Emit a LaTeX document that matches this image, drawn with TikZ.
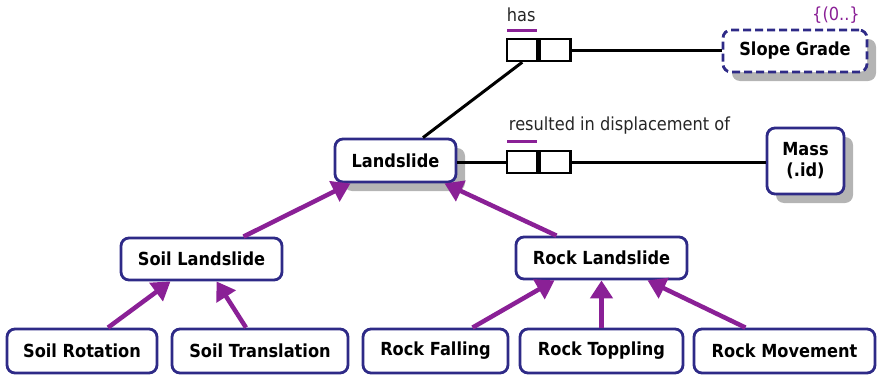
\documentclass[tikz,border=0pt]{standalone}
\usepackage{fontspec}
\setmainfont{DejaVu Sans}[FakeStretch=0.9]
\usetikzlibrary{shadows,arrows.meta,calc}
\definecolor{framecol}{HTML}{2E2A87}
\definecolor{relpurple}{HTML}{8A2096}
\definecolor{shadecol}{HTML}{B4B4B4}

\begin{document}
\begin{tikzpicture}[x=1pt,y=-1pt,
  entity/.style={draw=framecol, line width=2.8pt, rounded corners=8pt, fill=white,
    font=\fontsize{18}{21}\selectfont\bfseries, inner sep=0pt, align=center},
  shadowed/.style={drop shadow={shadow xshift=9pt, shadow yshift=-9pt, opacity=1, fill=shadecol}},
  optional/.style={dash pattern=on 8pt off 4pt},
  relhalf/.style={draw=black, line width=2.5pt, minimum width=30.5pt, minimum height=22pt, inner sep=0pt, fill=white},
  link/.style={draw=black, line width=3pt},
  isa/.style={draw=relpurple, line width=4.5pt, -{Triangle[length=18pt,width=22pt]}},
  bar/.style={draw=relpurple, line width=2.6pt},
  lbl/.style={font=\fontsize{18}{21}\selectfont, inner sep=0pt, text=black!85}
]
\useasboundingbox (0,0) rectangle (879,375);

% entities
\node[entity, shadowed, optional, minimum width=144pt, minimum height=42pt] (slope) at (795,51) {Slope Grade};
\node[entity, shadowed, minimum width=121pt, minimum height=43pt] (land) at (395.5,160.5) {Landslide};
\node[entity, shadowed, minimum width=77pt, minimum height=66pt] (mass) at (805.5,161) {Mass\\(.id)};
\node[entity, minimum width=161pt, minimum height=42pt] (soil) at (201.5,259) {Soil Landslide};
\node[entity, minimum width=171pt, minimum height=42pt] (rock) at (601.5,258) {Rock Landslide};
\node[entity, minimum width=150pt, minimum height=44pt] (srot) at (82,351) {Soil Rotation};
\node[entity, minimum width=176pt, minimum height=44pt] (stran) at (260,351) {Soil Translation};
\node[entity, minimum width=145pt, minimum height=44pt] (rfall) at (435.5,351) {Rock Falling};
\node[entity, minimum width=163pt, minimum height=44pt] (rtop) at (601.5,351) {Rock Toppling};
\node[entity, minimum width=181pt, minimum height=44pt] (rmov) at (784.5,351) {Rock Movement};

% relationship boxes
\node[relhalf] (hasL) at (522.25,50) {};
\node[relhalf, anchor=west] (hasR) at (hasL.east) {};
\node[relhalf] (resL) at (522.25,162) {};
\node[relhalf, anchor=west] (resR) at (resL.east) {};

% relationship labels and their marks
\node[lbl, anchor=base west] (hastxt) at ([xshift=1pt,yshift=16pt]hasL.north west) {has};
\node[lbl, anchor=base west] (restxt) at ([xshift=3pt,yshift=19pt]resL.north west) {resulted in displacement of};
\draw[bar] ([xshift=1.5pt,yshift=7pt]hasL.north west) -- ([xshift=-1.5pt,yshift=7pt]hasL.north east);
\draw[bar] ([xshift=1.5pt,yshift=8pt]resL.north west) -- ([xshift=-1.5pt,yshift=8pt]resL.north east);
\node[lbl, text=relpurple] (card) at (836,15) {\{(0..\}};

% relationship lines
\draw[link] ([xshift=27.5pt]land.north) -- (hasL.south);
\draw[link] (hasR.east) -- (hasR.east -| slope.west);
\draw[link] (resL.west -| land.east) -- (resL.west);
\draw[link] (resR.east) -- (resR.east -| mass.west);

% generalisation arrows
\draw[isa] ([xshift=42pt]soil.north) -- ([xshift=-45pt]land.south);
\draw[isa] ([xshift=-45pt]rock.north) -- ([xshift=49pt]land.south);
\draw[isa] ([xshift=26pt]srot.north) -- ([xshift=-31pt]soil.south);
\draw[isa] ([xshift=-14pt]stran.north) -- ([xshift=15pt]soil.south);
\draw[isa] ([xshift=37pt]rfall.north) -- ([xshift=-47pt]rock.south);
\draw[isa] (rtop.north) -- (rock.south);
\draw[isa] ([xshift=-39pt]rmov.north) -- ([xshift=46pt]rock.south);
\end{tikzpicture}
\end{document}
